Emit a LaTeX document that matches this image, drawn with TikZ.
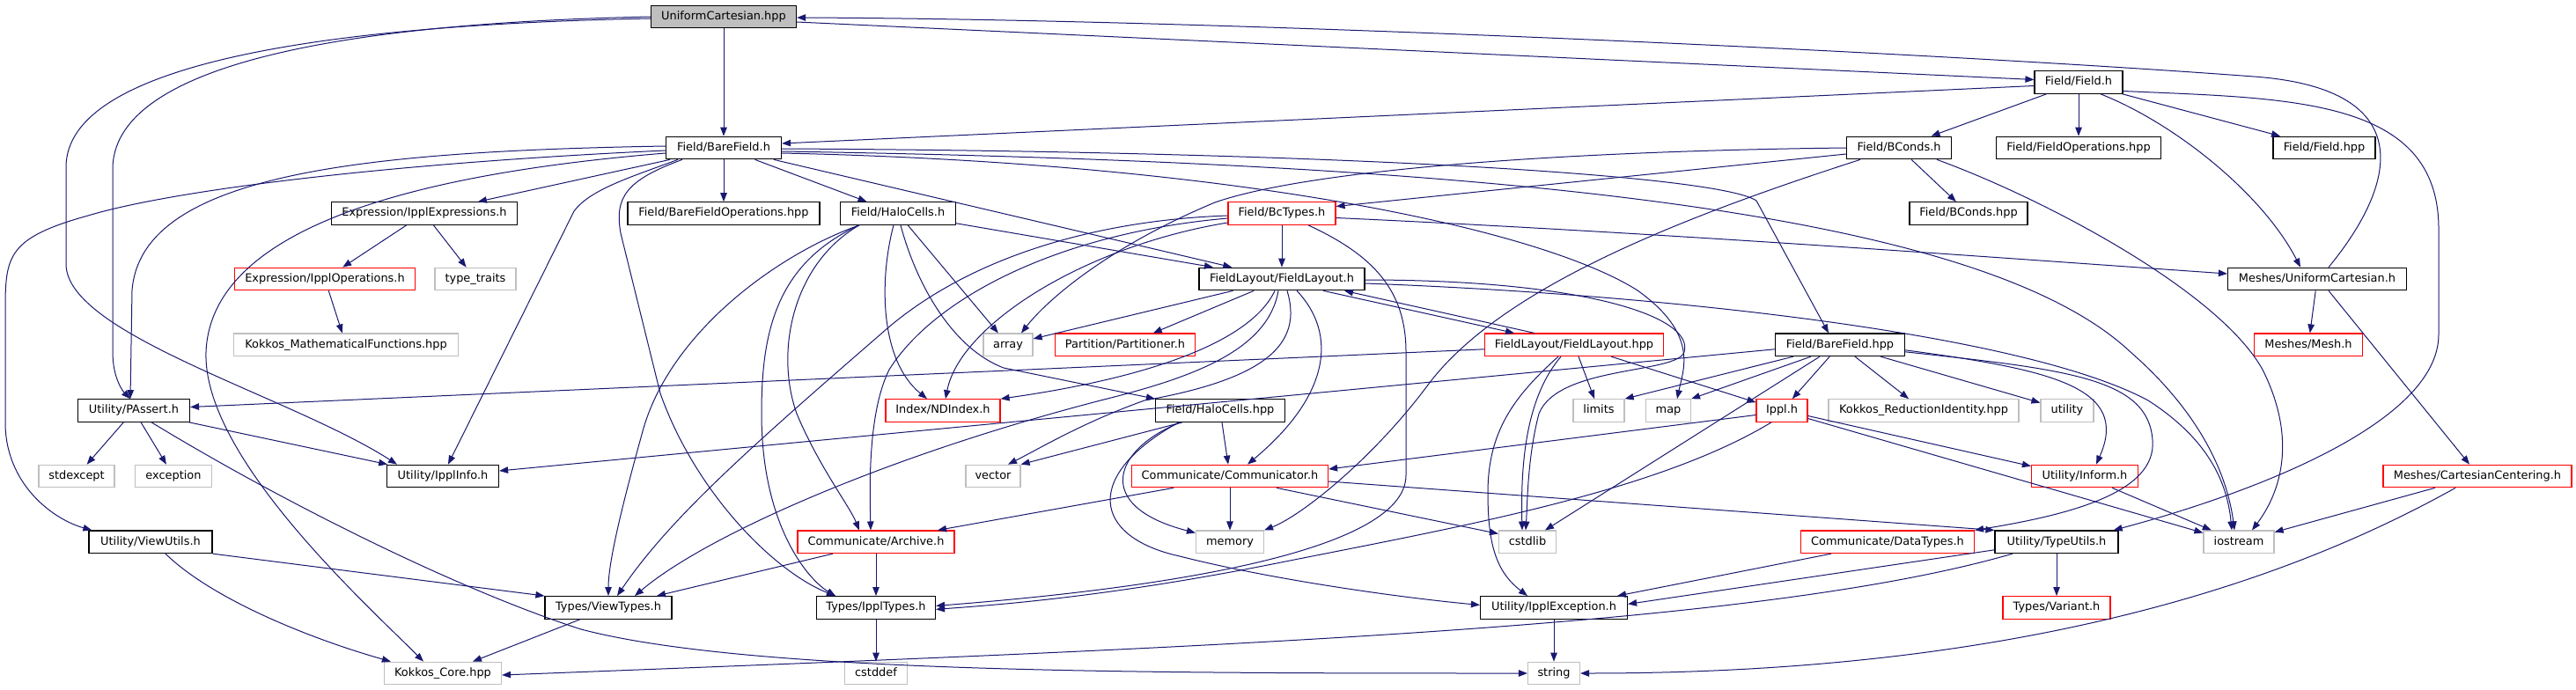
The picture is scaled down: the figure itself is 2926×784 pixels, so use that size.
\documentclass[tikz,border=0pt]{standalone}
\usepackage{fontspec}
\setmainfont{DejaVu Sans}
\usetikzlibrary{arrows.meta}
\definecolor{edgec}{RGB}{25,25,112}
\definecolor{rootfill}{RGB}{191,191,191}
\definecolor{grayb}{RGB}{191,191,191}
\definecolor{redb}{RGB}{255,0,0}
\newcommand\nodefont{\fontsize{12.9pt}{15pt}\selectfont}
\tikzset{
  nbase/.style={draw, fill=white, minimum height=25.5pt, inner sep=0pt, line width=1.2pt,
    text height=9.5pt, text depth=2.7pt, font=\nodefont, text=black},
  nblk/.style={nbase, draw=black},
  nroot/.style={nbase, draw=black, fill=rootfill},
  nred/.style={nbase, draw=redb},
  ngry/.style={nbase, draw=grayb},
  e/.style={draw=edgec, line width=1pt, -{Triangle[length=10pt,width=7.5pt]}}
}
\begin{document}
\begin{tikzpicture}[x=1pt,y=-1pt]
\fill[white] (0,0) rectangle (2926,784);
\useasboundingbox (0,0) rectangle (2926,784);
% row 0
\node[nroot, minimum width=165pt] (R) at (822,19) {UniformCartesian.hpp};
% row 1
\node[nblk, minimum width=100pt] (FF) at (2361,93.5) {Field/Field.h};
% row 2
\node[nblk, minimum width=131pt] (BF) at (822,168) {Field/BareField.h};
\node[nblk, minimum width=119pt] (BC) at (2157,168) {Field/BConds.h};
\node[nblk, minimum width=187pt] (FO) at (2361,168) {Field/FieldOperations.hpp};
\node[nblk, minimum width=116pt] (FH) at (2640,168) {Field/Field.hpp};
% row 3
\node[nblk, minimum width=211pt] (IE) at (482,242.5) {Expression/IpplExpressions.h};
\node[nblk, minimum width=218pt] (BFO) at (822,242.5) {Field/BareFieldOperations.hpp};
\node[nblk, minimum width=131pt] (HC) at (1020,242.5) {Field/HaloCells.h};
\node[nred, minimum width=122pt] (BT) at (1456,242.5) {Field/BcTypes.h};
\node[nblk, minimum width=134pt] (BCH) at (2236,242.5) {Field/BConds.hpp};
% row 4
\node[nred, minimum width=205pt] (IO) at (369,317) {Expression/IpplOperations.h};
\node[ngry, minimum width=92pt] (TT) at (540,317) {type\_traits};
\node[nblk, minimum width=188pt] (FL) at (1456,317) {FieldLayout/FieldLayout.h};
\node[nblk, minimum width=203pt] (MUC) at (2632,317) {Meshes/UniformCartesian.h};
% row 5
\node[ngry, minimum width=255pt] (KMF) at (393,391.8) {Kokkos\_MathematicalFunctions.hpp};
\node[ngry, minimum width=56pt] (AR) at (1145,391.8) {array};
\node[nred, minimum width=159pt] (PP) at (1278,391.8) {Partition/Partitioner.h};
\node[nred, minimum width=203pt] (FLH) at (1788,391.8) {FieldLayout/FieldLayout.hpp};
\node[nblk, minimum width=147pt] (BFH) at (2090,391.8) {Field/BareField.hpp};
\node[nred, minimum width=123pt] (MM) at (2622,391.8) {Meshes/Mesh.h};
% row 6
\node[nblk, minimum width=127pt] (PA) at (152,466.5) {Utility/PAssert.h};
\node[nred, minimum width=130pt] (ND) at (1071,466.5) {Index/NDIndex.h};
\node[nblk, minimum width=147pt] (HCH) at (1386,466.5) {Field/HaloCells.hpp};
\node[ngry, minimum width=58pt] (LI) at (1816,466.5) {limits};
\node[ngry, minimum width=51pt] (MP) at (1895,466.5) {map};
\node[nred, minimum width=58pt] (IP) at (2024,466.5) {Ippl.h};
\node[ngry, minimum width=216pt] (KRI) at (2185,466.5) {Kokkos\_ReductionIdentity.hpp};
\node[ngry, minimum width=60pt] (UT) at (2348,466.5) {utility};
% row 7
\node[ngry, minimum width=86pt] (SE) at (87,541) {stdexcept};
\node[ngry, minimum width=87pt] (EX) at (197,541) {exception};
\node[nblk, minimum width=127pt] (II) at (503,541) {Utility/IpplInfo.h};
\node[ngry, minimum width=62pt] (VE) at (1128,541) {vector};
\node[nred, minimum width=223pt] (CO) at (1397,541) {Communicate/Communicator.h};
\node[nred, minimum width=121pt] (IN) at (2368,541) {Utility/Inform.h};
\node[nred, minimum width=214pt] (CC) at (2814,541) {Meshes/CartesianCentering.h};
% row 8
\node[nblk, minimum width=140pt] (VU) at (171,615.8) {Utility/ViewUtils.h};
\node[nred, minimum width=178pt] (AH) at (995,615.8) {Communicate/Archive.h};
\node[ngry, minimum width=77pt] (ME) at (1397,615.8) {memory};
\node[ngry, minimum width=65pt] (CS) at (1735,615.8) {cstdlib};
\node[nred, minimum width=197pt] (DT) at (2144,615.8) {Communicate/DataTypes.h};
\node[nblk, minimum width=140pt] (TU) at (2336,615.8) {Utility/TypeUtils.h};
\node[ngry, minimum width=80pt] (IS) at (2543,615.8) {iostream};
% row 9
\node[nblk, minimum width=144pt] (VT) at (691,690.4) {Types/ViewTypes.h};
\node[nblk, minimum width=135pt] (IT) at (995,690.4) {Types/IpplTypes.h};
\node[nblk, minimum width=167pt] (EXC) at (1765,690.4) {Utility/IpplException.h};
\node[nred, minimum width=122pt] (VA) at (2336,690.4) {Types/Variant.h};
% row 10
\node[ngry, minimum width=133pt] (KC) at (503,765) {Kokkos\_Core.hpp};
\node[ngry, minimum width=71pt] (CD) at (995,765) {cstddef};
\node[ngry, minimum width=59pt] (ST) at (1765,765) {string};

% ---- edges from root
\draw[e] (R) -- (BF);
\draw[e] (R.west) .. controls (450,25) and (132,60) .. (128,190) -- (128,400) .. controls (128,430) and (140,445) .. ([xshift=-4pt]PA.north);
\draw[e] ([yshift=-2pt]R.west) .. controls (380,28) and (75,70) .. (75,190) -- (75,300) .. controls (75,380) and (330,450) .. ([xshift=-52pt]II.north);
\draw[e] ([yshift=-6pt]R.east) -- ([yshift=3pt]FF.west);
\draw[e] ([xshift=13pt]MUC.north) .. controls (2730,200) and (2740,100) .. (2560,87) .. controls (2200,60) and (1400,22) .. ([yshift=-1pt]R.east);
% ---- Field/Field.h
\draw[e] ([yshift=-4pt]FF.west) -- ([yshift=5pt]BF.east);
\draw[e] (FF) -- (BC);
\draw[e] (FF) -- (FO);
\draw[e] (FF) -- (FH);
\draw[e] ([xshift=25pt]FF.south) .. controls (2470,140) and (2570,220) .. ([xshift=-19pt]MUC.north);
\draw[e] ([yshift=-10pt]FF.east) .. controls (2600,112) and (2770,110) .. (2770,260) -- (2770,380) .. controls (2770,480) and (2560,560) .. ([xshift=-6pt]TU.north east);
% ---- Field/BareField.h
\draw[e] (BF) -- (IE);
\draw[e] (BF) -- (BFO);
\draw[e] (BF) -- (HC);
\draw[e] (BF) -- (FL);
\draw[e] ([yshift=-1pt]BF.east) .. controls (1500,172) and (1950,198) .. (1995,228) -- ([xshift=-13pt]BFH.north);
\draw[e] ([yshift=-4pt]BF.east) .. controls (1700,185) and (2250,240) .. (2420,400) .. controls (2500,470) and (2530,540) .. ([xshift=-5pt]IS.north);
\draw[e] ([yshift=-6pt]BF.east) .. controls (1400,185) and (1750,260) .. (1860,330) .. controls (1930,380) and (1912,420) .. ([xshift=10pt]MP.north);
\draw[e] ([yshift=2pt]BF.west) .. controls (400,172) and (160,200) .. (150,330) -- ([xshift=-4pt]PA.north);
\draw[e] ([yshift=-3pt]BF.west) .. controls (450,185) and (200,215) .. (100,245) .. controls (10,270) and (6,290) .. (6,350) -- (6,480) .. controls (6,550) and (60,590) .. ([xshift=4pt]VU.north west);
\draw[e] ([yshift=-6pt]BF.west) .. controls (500,195) and (240,250) .. (234,400) .. controls (230,520) and (420,690) .. ([xshift=-22pt]KC.north);
\draw[e] ([xshift=-52pt]BF.south) .. controls (720,200) and (670,215) .. (652,240) -- ([xshift=6pt]II.north);
\draw[e] ([xshift=-47pt]BF.south) .. controls (710,205) and (698,225) .. (705,265) -- (750,447) .. controls (790,560) and (880,650) .. ([xshift=-46pt]IT.north);
% ---- Field/HaloCells.h
\draw[e] (HC) -- (FL);
\draw[e] (HC) -- (AR);
\draw[e] ([xshift=-5pt]HC.south) .. controls (998,320) and (1000,410) .. ([xshift=-18pt]ND.north);
\draw[e] ([xshift=3pt]HC.south) .. controls (1040,320) and (1080,395) .. (1140,418) -- (HCH.north west);
\draw[e] ([xshift=-44pt]HC.south) .. controls (900,300) and (880,400) .. (905,470) .. controls (930,530) and (965,575) .. ([xshift=-19pt]AH.north);
\draw[e] ([xshift=-44pt]HC.south) .. controls (880,300) and (865,380) .. (865,470) .. controls (865,600) and (920,660) .. ([xshift=-46pt]IT.north);
\draw[e] ([xshift=-44pt]HC.south) .. controls (880,290) and (760,380) .. (730,490) .. controls (705,580) and (691,640) .. (VT.north);
% ---- Field/BcTypes.h
\draw[e] (BT) -- (FL);
\draw[e] ([yshift=-10.5pt]BT.west) .. controls (1230,280) and (1090,370) .. ([xshift=3pt]ND.north);
\draw[e] ([yshift=-5.5pt]BT.west) .. controls (1200,265) and (1060,340) .. (1010,420) .. controls (985,470) and (988,560) .. ([xshift=-6pt]AH.north);
\draw[e] ([yshift=-2.5pt]BT.west) .. controls (1250,250) and (1100,290) .. (1000,380) .. controls (850,510) and (760,590) .. ([xshift=10pt]VT.north);
\draw[e] ([xshift=30pt]BT.south) .. controls (1560,290) and (1597,330) .. (1597,400) -- (1597,540) .. controls (1597,630) and (1300,670) .. ([yshift=2pt]IT.east);
\draw[e] ([yshift=-5pt]BT.east) .. controls (1900,265) and (2300,295) .. ([yshift=6pt]MUC.west);
% ---- Field/BConds.h
\draw[e] (BC.west) .. controls (1750,172) and (1480,195) .. (1380,230) .. controls (1260,280) and (1190,340) .. ([xshift=15pt]AR.north);
\draw[e] ([yshift=-7pt]BC.west) -- ([yshift=8pt]BT.east);
\draw[e] ([xshift=-44pt]BC.south) .. controls (1900,250) and (1700,330) .. (1620,440) .. controls (1560,520) and (1480,585) .. (ME.north east);
\draw[e] (BC) -- (BCH);
\draw[e] ([xshift=43pt]BC.south) .. controls (2320,225) and (2520,330) .. (2570,420) .. controls (2610,500) and (2590,560) .. ([xshift=15pt]IS.north);
% ---- FieldLayout/FieldLayout.h
\draw[e] (FL) -- (AR);
\draw[e] (FL) -- (PP);
\draw[e] ([xshift=-8pt]FL.south) .. controls (1420,390) and (1300,430) .. (ND.north east);
\draw[e] ([xshift=-4pt]FL.south) .. controls (1440,400) and (1350,430) .. (1250,455) .. controls (1000,520) and (800,610) .. ([xshift=30pt]VT.north);
\draw[e] ([xshift=6pt]FL.south) .. controls (1480,390) and (1440,430) .. (1300,455) .. controls (1230,480) and (1180,510) .. ([xshift=17pt]VE.north);
\draw[e] ([xshift=17pt]FL.south) .. controls (1520,380) and (1510,450) .. ([xshift=20pt]CO.north);
\draw[e] ([xshift=47pt]FL.south) -- ([xshift=-68pt]FLH.north);
\draw[e] ([xshift=-45pt]FLH.north) -- ([xshift=71pt]FL.south);
\draw[e] ([yshift=-1pt]FL.east) .. controls (1800,318) and (1925,360) .. (1913,400) .. controls (1905,425) and (1770,415) .. (1748,470) .. controls (1735,520) and (1735,570) .. ([xshift=-2pt]CS.north);
\draw[e] ([yshift=-5pt]FL.east) .. controls (1900,335) and (2300,380) .. (2440,455) .. controls (2510,500) and (2530,550) .. ([xshift=-8pt]IS.north);
% ---- FieldLayout/FieldLayout.hpp
\draw[e] ([yshift=-5pt]FLH.west) -- ([yshift=4pt]PA.east);
\draw[e] ([xshift=-18pt]FLH.south) .. controls (1720,450) and (1690,490) .. (1690,560) .. controls (1690,620) and (1700,650) .. ([xshift=-30pt]EXC.north);
\draw[e] ([xshift=-15pt]FLH.south) .. controls (1735,450) and (1727,520) .. ([xshift=-6pt]CS.north);
\draw[e] (FLH) -- (LI);
\draw[e] (FLH) -- (IP);
% ---- Field/BareField.hpp
\draw[e] ([yshift=-5pt]BFH.west) -- ([yshift=6pt]II.east);
\draw[e] ([xshift=-53pt]BFH.south) -- (LI.north east);
\draw[e] ([xshift=-33pt]BFH.south) -- (MP.north east);
\draw[e] ([xshift=-23pt]BFH.south) -- ([xshift=20pt]CS.north);
\draw[e] (BFH) -- (IP);
\draw[e] (BFH) -- (KRI);
\draw[e] (BFH) -- (UT);
\draw[e] ([yshift=-6pt]BFH.east) .. controls (2330,420) and (2420,440) .. ([xshift=13pt]IN.north);
\draw[e] ([yshift=-8pt]BFH.east) .. controls (2350,420) and (2440,430) .. (2445,500) .. controls (2450,560) and (2350,585) .. (DT.north east);
% ---- Ippl.h
\draw[e] ([yshift=-5pt]IP.west) -- ([yshift=8pt]CO.east);
\draw[e] ([xshift=-12pt]IP.south) .. controls (1880,560) and (1650,600) .. (1450,640) .. controls (1250,680) and (1120,688) .. ([yshift=-2pt]IT.east);
\draw[e] ([yshift=-6pt]IP.east) -- ([yshift=-2pt]IN.north west);
\draw[e] ([yshift=-9pt]IP.east) -- ([yshift=-3pt]IS.north west);
% ---- Communicator
\draw[e] (CO) -- (ME);
\draw[e] ([xshift=-64pt]CO.south) -- ([xshift=70pt]AH.north);
\draw[e] ([xshift=53pt]CO.south) -- ([yshift=-4pt]CS.north west);
\draw[e] ([yshift=-6pt]CO.east) -- (TU.north west);
% ---- HaloCells.hpp
\draw[e] (HCH) -- (CO);
\draw[e] ([xshift=-43pt]HCH.south) -- (VE.north east);
\draw[e] ([xshift=-45pt]HCH.south) .. controls (1265,510) and (1240,575) .. ([yshift=-3pt]ME.north west);
\draw[e] ([xshift=-47pt]HCH.south) .. controls (1230,540) and (1240,610) .. (1340,632) .. controls (1450,660) and (1600,680) .. ([yshift=3pt]EXC.west);
% ---- Archive
\draw[e] (AH) -- (IT);
\draw[e] ([xshift=-49pt]AH.south) -- ([xshift=55pt]VT.north);
% ---- ViewUtils, ViewTypes
\draw[e] (VU.south east) -- (VT.north west);
\draw[e] ([xshift=17pt]VU.south) .. controls (240,680) and (350,725) .. ([xshift=8pt]KC.north west);
\draw[e] ([xshift=-32pt]VT.south) -- ([xshift=34pt]KC.north);
% ---- TypeUtils
\draw[e] ([xshift=-50pt]TU.south) .. controls (2000,712) and (1400,735) .. ([yshift=-2pt]KC.east);
\draw[e] ([yshift=-9pt]TU.west) -- ([yshift=4pt]EXC.east);
\draw[e] (TU) -- (VA);
\draw[e] ([xshift=-64pt]DT.south) -- ([xshift=72pt]EXC.north);
\draw[e] (EXC) -- (ST);
\draw[e] (IT) -- (CD);
% ---- PAssert
\draw[e] (PA) -- (SE);
\draw[e] (PA) -- (EX);
\draw[e] (PA) -- (II);
\draw[e] ([xshift=20pt]PA.south) .. controls (320,570) and (520,670) .. (660,715) .. controls (850,765) and (1300,765) .. (ST.west);
% ---- Expressions
\draw[e] (IE) -- (IO);
\draw[e] (IE) -- (TT);
\draw[e] (IO) -- (KMF);
% ---- misc
\draw[e] (IN) -- (IS);
\draw[e] (CC) -- (IS);
\draw[e] ([xshift=-25pt]CC.south) .. controls (2600,660) and (2300,765) .. (ST.east);
\draw[e] (MUC) -- (MM);
\draw[e] ([xshift=13pt]MUC.south) -- ([xshift=-9pt]CC.north);
\end{tikzpicture}
\end{document}
